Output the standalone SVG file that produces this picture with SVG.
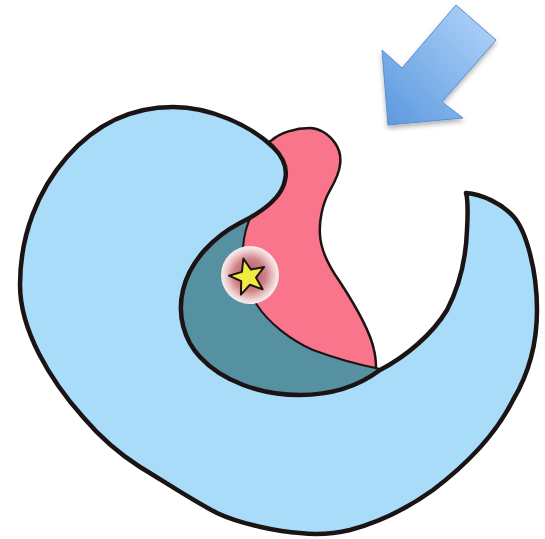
<svg xmlns="http://www.w3.org/2000/svg" width="545" height="539" viewBox="0 0 545 539">
  <style>
    .ink { stroke: #1c1414; stroke-linejoin: round; stroke-linecap: round; }
    .body { fill: #a9dcf8; stroke-width: 4.5; }
    .pocket { fill: #5691a2; stroke: none; }
    .lobe { fill: #f8758b; stroke-width: 2.5; }
    .seam { fill: none; stroke-width: 2; }
  </style>
  <defs>
    <linearGradient id="arrowFill" x1="1" y1="0" x2="0" y2="1">
      <stop offset="0" stop-color="#b4d6fa"/>
      <stop offset="1" stop-color="#5b98de"/>
    </linearGradient>
    <radialGradient id="glow" cx="0.5" cy="0.5" r="0.5">
      <stop offset="0" stop-color="#b2525c"/>
      <stop offset="0.55" stop-color="#cf8287"/>
      <stop offset="0.85" stop-color="#f0d2d3"/>
      <stop offset="1" stop-color="#fbf0f0"/>
    </radialGradient>
    <filter id="shadow" x="-20%" y="-20%" width="150%" height="150%">
      <feDropShadow dx="0" dy="3" stdDeviation="2.5" flood-color="#000" flood-opacity="0.3"/>
    </filter>
  </defs>

  <!-- pink lobe (left part tucked under the teal pocket and blue body) -->
  <g id="pink-lobe">
    <path class="lobe ink" d="M 258,150 L 272,140 C 280,133 295,128 310,128 C 318,128 328,133 335,143 C 340,150 341,158 340,165 C 339,175 333,185 329,192 C 322,205 319,222 320,235 C 321,252 330,268 340,282 C 355,305 370,330 374,350 C 376,358 376,364 376,369 L 380,372 L 330,400 L 215,330 L 225,200 L 245,160 Z"/>
  </g>

  <!-- dark teal pocket between the body and the pink lobe -->
  <g id="teal-pocket">
    <path class="pocket" d="M 262,200 L 200,230 L 160,320 L 230,420 L 330,420 L 400,375 L 381,369 C 365,366 340,360 313,350 C 290,340 268,322 257,305 C 246,288 242,265 243,248 C 244,232 250,218 262,200 Z"/>
    <path class="seam ink" d="M 380,369 C 365,366 340,360 313,350 C 290,340 268,322 257,305 C 246,288 242,265 243,248 C 244,232 248,222 252,214"/>
  </g>

  <!-- light blue C-shaped body -->
  <g id="blue-body">
    <path class="body ink" d="M 466,193
      C 482,194 502,204 513,216
      C 526,230 537,270 537,310
      C 537,345 528,375 513,400
      C 498,430 470,462 433,490
      C 408,508 380,522 350,530
      C 333,534 316,535 300,533
      C 280,532 240,524 217,513
      C 195,502 165,482 140,467
      C 118,453 100,437 83,417
      C 50,380 20,330 20,285
      C 20,235 38,190 67,157
      C 95,125 130,107 173,107
      C 210,107 250,125 273,147
      C 283,157 288,168 285,180
      C 282,198 262,212 240,223
      C 215,236 190,260 183,290
      C 177,315 184,340 200,357
      C 222,381 260,395 300,395
      C 335,395 360,385 380,370
      C 405,357 432,335 447,310
      C 460,285 466,258 467,230
      C 468,212 468,200 466,193 Z"/>
  </g>

  <!-- marker: glowing disc with a star -->
  <g id="star-marker">
    <circle cx="250" cy="275" r="29" fill="url(#glow)"/>
    <polygon class="ink" fill="#f2ea3c" stroke-width="2" points="243.4,258.6 251.0,269.6 264.1,266.9 256.0,277.6 262.6,289.2 249.9,284.8 240.9,294.6 241.2,281.2 229.0,275.7 241.9,271.9"/>
  </g>

  <!-- direction arrow -->
  <g id="arrow">
    <polygon points="388,125 382,50 402,68 456,5 496,40 442,102 463,118" fill="url(#arrowFill)" stroke="#5a8fd2" stroke-width="1" stroke-linejoin="miter" filter="url(#shadow)"/>
  </g>
</svg>
